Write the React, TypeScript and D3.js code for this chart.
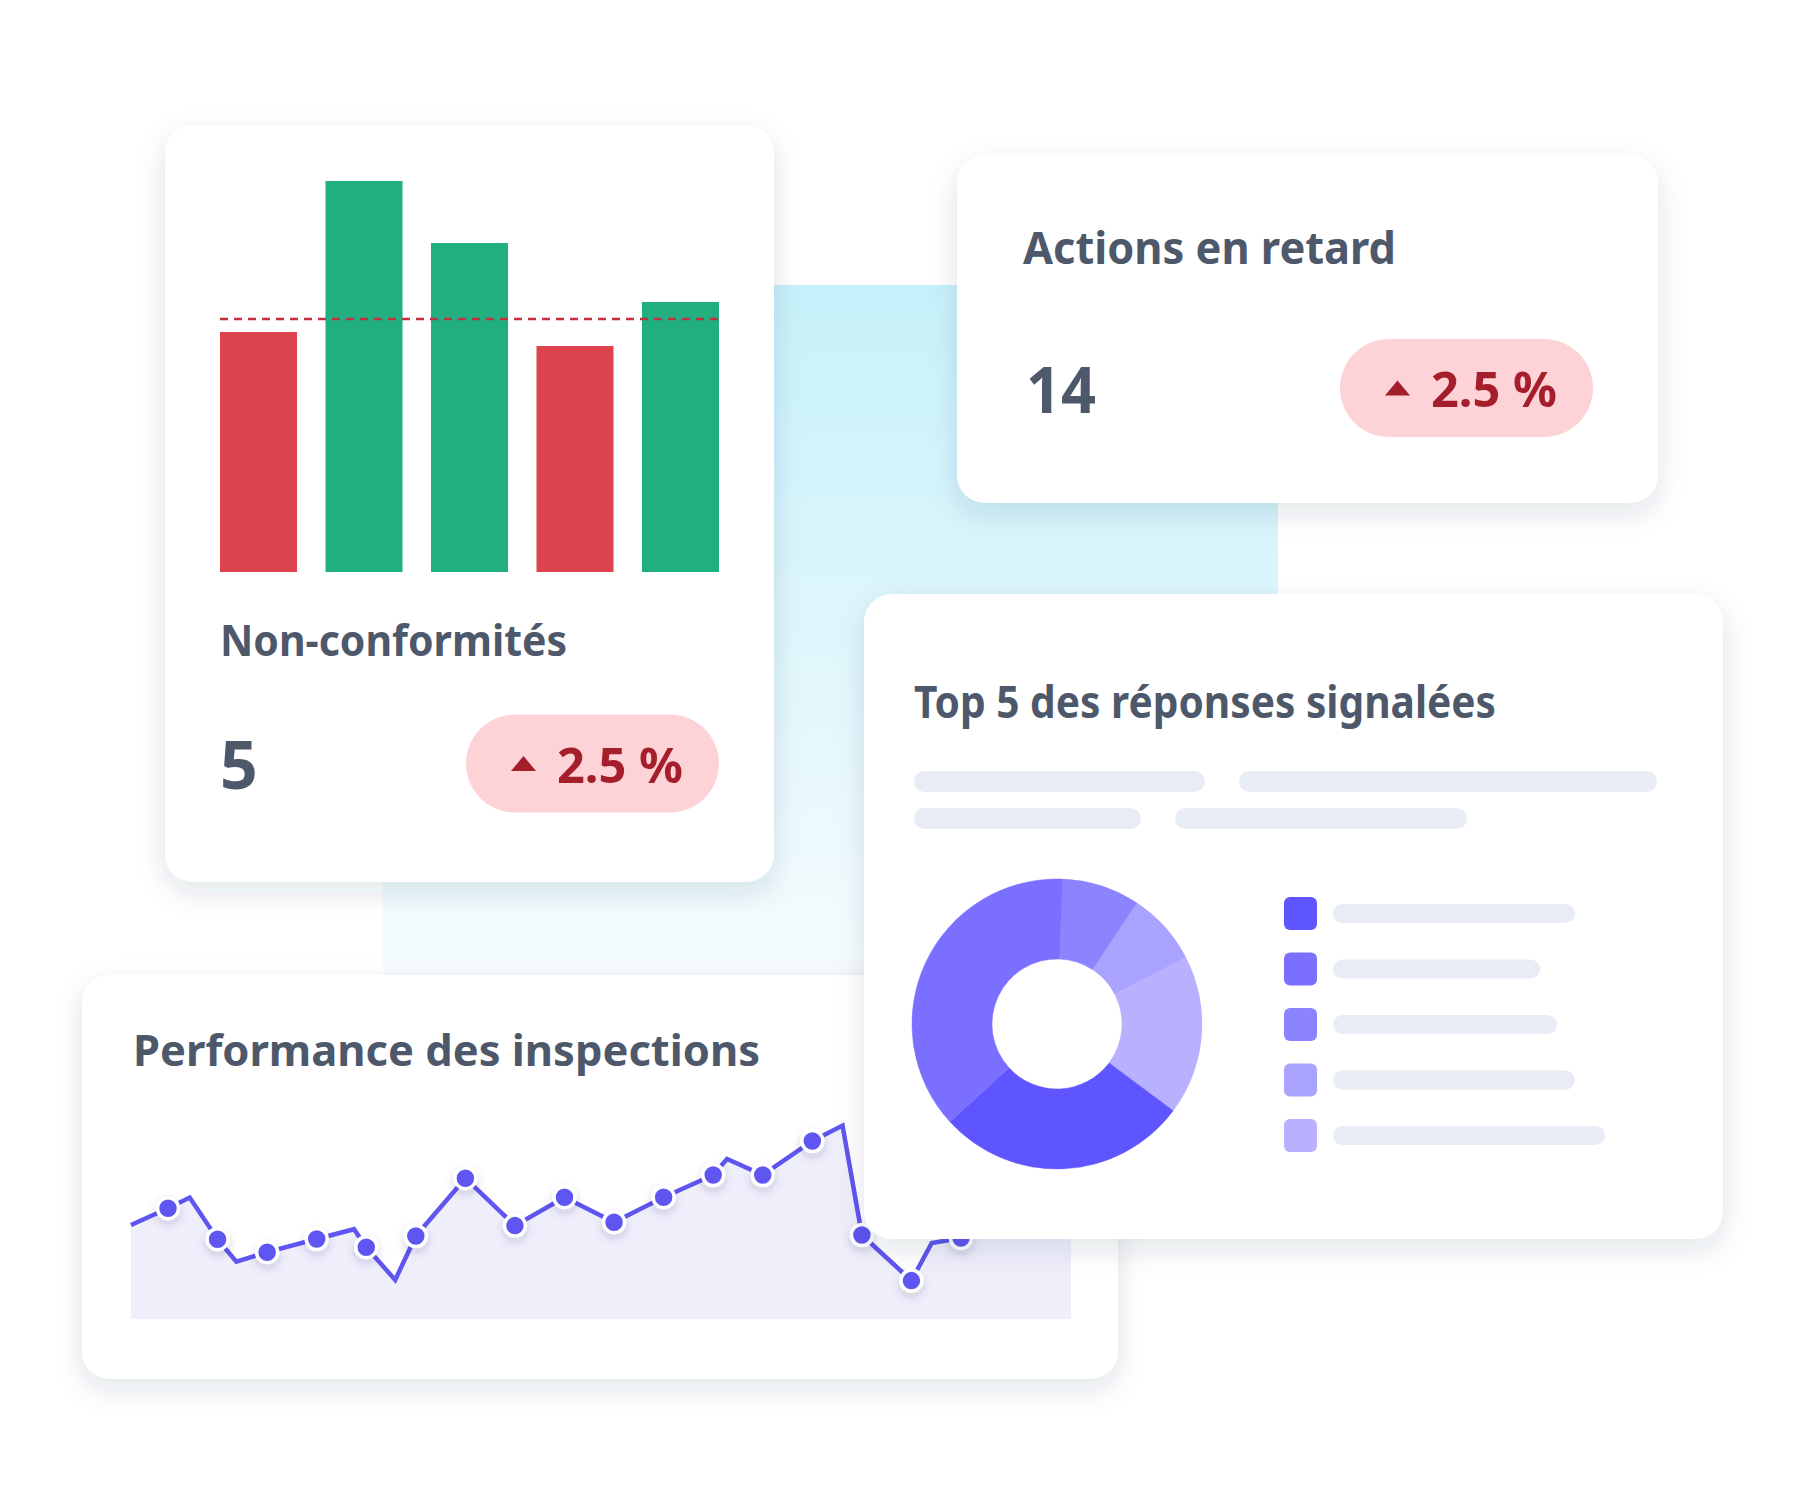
import React from 'react';
import * as d3 from 'd3';

// ---------- Data ----------
const barCategories = ['S1', 'S2', 'S3', 'S4', 'S5'];
const barValues = [240, 391, 329, 226, 270];
const barTarget = 253;

const titleNonConf = 'Non-conformités';
const titleActions = 'Actions en retard';
const titleTop5 = 'Top 5 des réponses signalées';
const titlePerf = 'Performance des inspections';
const kpiNonConf = '5';
const kpiActions = '14';
const kpiDeltaNonConf = '2.5 %';
const kpiDeltaActions = '2.5 %';

const lineT = [-0.747, 0, 0.438, 1, 1.378, 2, 3, 3.753, 4, 4.584, 5, 6, 7, 8, 9, 10, 11, 11.28, 12, 13, 13.61, 14, 15, 15.41, 16, 17, 18, 18.22];
const lineValues = [47, 55.4, 60.7, 39.9, 28.7, 33.4, 40, 44.9, 35.9, 19.5, 41.5, 70.4, 46.7, 60.9, 48.4, 60.9, 72, 80, 72, 89, 96.7, 42, 19.2, 38, 40.5, 55, 62, 58];
const lineMarkers = [0, 1, 0, 1, 0, 1, 1, 0, 1, 0, 1, 1, 1, 1, 1, 1, 1, 0, 1, 1, 0, 1, 1, 0, 1, 1, 1, 0];

const pieValues = [8.7, 8.1, 17.8, 28.0, 37.4];
const pieColors = ['#8C84FF', '#A9A3FF', '#B7B1FF', '#5F55FF', '#7A6FFF'];
const legendColors = ['#5F55FF', '#7A6FFF', '#8C84FF', '#A9A3FF', '#B7B1FF'];
const legendBarLengths = [242, 207, 224, 242, 272];
const skeletonRows = [[291, 418], [227, 292]];

// ---------- Styles ----------
const FONT = '"Noto Sans", "Open Sans", sans-serif';
const TEXT = '#4E586B';
const RED_TEXT = '#A51E2B';
const PILL = '#FDD3D8';
const SKEL = '#E8ECF4';

function Pill({ x, y, label }: { x: number; y: number; label: string }) {
  const w = 253, h = 98;
  return (
    <g>
      <rect x={x} y={y} width={w} height={h} rx={h / 2} fill={PILL} />
      <path d={`M${x + 45},${y + 56.5} L${x + 70},${y + 56.5} L${x + 57.5},${y + 41.5} Z`} fill={RED_TEXT} />
      <text x={x + 91} y={y + 68} fontFamily={FONT} fontWeight={700} fontSize={48} fill={RED_TEXT} textLength={126} lengthAdjust="spacingAndGlyphs">{label}</text>
    </g>
  );
}

export default function App() {
  // Bar chart
  const xb = d3.scaleBand<string>().domain(barCategories).range([220, 719]).paddingInner(0.27).paddingOuter(0);
  const yb = d3.scaleLinear().domain([0, 400]).range([572, 172]);

  // Line chart
  const xl = d3.scaleLinear().domain([0, 16]).range([168, 961]);
  const yl = d3.scaleLinear().domain([0, 100]).range([1319, 1119]);
  const pts = lineT.map((t, i) => ({ t, v: lineValues[i], m: lineMarkers[i] }));
  const lineGen = d3.line<any>().x(d => xl(d.t)).y(d => yl(d.v));
  const areaGen = d3.area<any>().x(d => xl(d.t)).y0(yl(0)).y1(d => yl(d.v));

  // Donut
  const cx = 1057, cy = 1024;
  const pie = d3.pie<number>().sort(null).value(d => d)
    .startAngle((2.2 * Math.PI) / 180).endAngle(((360 + 2.2) * Math.PI) / 180);
  const arcs = pie(pieValues);
  const arcGen = d3.arc<any>().innerRadius(65).outerRadius(145);

  return (
    <div style={{ position: 'absolute', left: 0, top: 0, width: 1800, height: 1500, background: '#fff' }}>
      <svg width={1800} height={1500} viewBox="0 0 1800 1500" style={{ display: 'block' }}>
        <defs>
          <linearGradient id="cyan" x1="0" y1="0" x2="0" y2="1">
            <stop offset="0" stopColor="#C6F1FA" />
            <stop offset="1" stopColor="#F6FCFE" />
          </linearGradient>
          <filter id="shadow" x="-15%" y="-15%" width="130%" height="140%">
            <feDropShadow dx="0" dy="10" stdDeviation="14" floodColor="#1C2540" floodOpacity="0.12" />
          </filter>
          <filter id="dotShadow" x="-100%" y="-100%" width="300%" height="300%">
            <feDropShadow dx="0" dy="4" stdDeviation="4" floodColor="#2A2060" floodOpacity="0.18" />
          </filter>
        </defs>
        <rect x={0} y={0} width={1800} height={1500} fill="#fff" />
        <rect x={383} y={285} width={895} height={690} fill="url(#cyan)" />

        {/* Card 4: Performance des inspections */}
        <rect x={82} y={975} width={1036} height={404} rx={28} fill="#fff" filter="url(#shadow)" />
        <text x={133} y={1066} fontFamily={FONT} fontWeight={700} fontSize={43} fill={TEXT} textLength={627} lengthAdjust="spacingAndGlyphs">{titlePerf}</text>
        <path d={areaGen(pts) || ''} fill="#EFEFFC" />
        <path d={lineGen(pts) || ''} fill="none" stroke="#5F55F0" strokeWidth={4.5} strokeLinejoin="miter" />
        {pts.filter(p => p.m === 1).map((p, i) => (
          <circle key={i} cx={xl(p.t)} cy={yl(p.v)} r={10.5} fill="#5F55F0" stroke="#fff" strokeWidth={3.5} filter="url(#dotShadow)" />
        ))}

        {/* Card 1: Non-conformités */}
        <rect x={165} y={125} width={609} height={757} rx={28} fill="#fff" filter="url(#shadow)" />
        {barCategories.map((c, i) => (
          <rect key={c} x={xb(c)} y={yb(barValues[i])} width={xb.bandwidth()} height={yb(0) - yb(barValues[i])}
            fill={barValues[i] >= barTarget ? '#20AF7E' : '#DC434D'} />
        ))}
        <line x1={220} x2={719} y1={yb(barTarget)} y2={yb(barTarget)} stroke="#C0313D" strokeWidth={2.5} strokeDasharray="8 6" />
        <text x={220} y={656} fontFamily={FONT} fontWeight={700} fontSize={43} fill={TEXT} textLength={347} lengthAdjust="spacingAndGlyphs">{titleNonConf}</text>
        <text x={220} y={789} fontFamily={FONT} fontWeight={700} fontSize={66} fill={TEXT}>{kpiNonConf}</text>
        <Pill x={466} y={714.5} label={kpiDeltaNonConf} />

        {/* Card 2: Actions en retard */}
        <rect x={957} y={155} width={701} height={348} rx={28} fill="#fff" filter="url(#shadow)" />
        <text x={1023} y={264} fontFamily={FONT} fontWeight={700} fontSize={45} fill={TEXT} textLength={373} lengthAdjust="spacingAndGlyphs">{titleActions}</text>
        <text x={1026} y={413} fontFamily={FONT} fontWeight={700} fontSize={65} fill={TEXT} textLength={70} lengthAdjust="spacingAndGlyphs">{kpiActions}</text>
        <Pill x={1340} y={339} label={kpiDeltaActions} />

        {/* Card 3: Top 5 */}
        <rect x={864} y={594} width={859} height={645} rx={28} fill="#fff" filter="url(#shadow)" />
        <text x={914} y={718} fontFamily={FONT} fontWeight={700} fontSize={45} fill={TEXT} textLength={582} lengthAdjust="spacingAndGlyphs">{titleTop5}</text>
        {skeletonRows.map((row, r) => {
          let x = 914;
          return row.map((w, k) => {
            const el = <rect key={`${r}-${k}`} x={x} y={771 + r * 37} width={w} height={21} rx={10.5} fill={SKEL} />;
            x += w + 34;
            return el;
          });
        })}
        <g transform={`translate(${cx},${cy})`}>
          {arcs.map((a, i) => (
            <path key={i} d={arcGen(a) || ''} fill={pieColors[i]} stroke={pieColors[i]} strokeWidth={0.5} />
          ))}
        </g>
        {legendColors.map((c, i) => (
          <g key={c}>
            <rect x={1284} y={897 + i * 55.5} width={33} height={33} rx={6} fill={c} />
            <rect x={1333} y={904 + i * 55.5} width={legendBarLengths[i]} height={19} rx={9.5} fill={SKEL} />
          </g>
        ))}
      </svg>
    </div>
  );
}
